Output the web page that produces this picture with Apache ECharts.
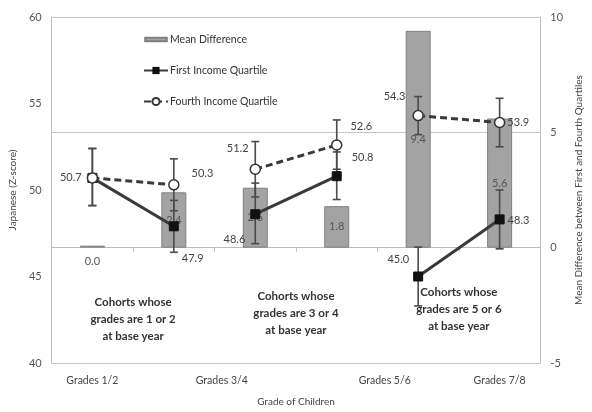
<!DOCTYPE html>
<html><head><meta charset="utf-8">
<script src="https://cdn.jsdelivr.net/npm/echarts@6/dist/echarts.min.js"></script>
<style>html,body{margin:0;padding:0;background:#fff}#c{width:592px;height:412px}</style>
</head><body><div id="c"></div>
<script>
// ---- data ----
const categories = ['Grades 1/2','Grades 3/4','Grades 3/4','Grades 5/6','Grades 5/6','Grades 7/8'];
const tickLabels = ['Grades 1/2','Grades 3/4','','Grades 5/6','','Grades 7/8'];
const meanDiff   = [0.0, 2.4, 2.6, 1.8, 9.4, 5.6];
const firstQ     = [50.7, 47.9, 48.6, 50.8, 45.0, 48.3];
const firstLow   = [49.1, 46.4, 46.9, 49.45, 43.3, 46.6];
const firstHigh  = [52.4, 49.4, 50.4, 52.2, 46.7, 50.0];
const fourthQ    = [50.7, 50.3, 51.2, 52.6, 54.3, 53.9];
const fourthLow  = [49.1, 48.8, 49.6, 51.2, 53.2, 52.5];
const fourthHigh = [52.4, 51.8, 52.8, 54.05, 55.4, 55.3];
const cohortPairs = [[0,1],[2,3],[4,5]];
const cohortNotes = ['Cohorts whose\ngrades are 1 or 2\nat base year','Cohorts whose\ngrades are 3 or 4\nat base year','Cohorts whose\ngrades are 5 or 6\nat base year'];
const noteY = [42.5, 42.85, 43.1];

// ---- label placement (style) ----
const FONT = 'Lato, "Liberation Sans", sans-serif';
const fourthLabelPlace = [
  {position:'left', offset:[0,0]},
  {position:'right', offset:[7,-11]},
  {position:'left', offset:[4,-21]},
  {position:'right', offset:[3,-19]},
  {position:'left', offset:[-2,-19]},
  {position:'right', offset:[-3,0]}
];
const firstLabelPlace = [
  null,
  {position:'right', offset:[-2,32]},
  {position:'left', offset:[0,25]},
  {position:'right', offset:[5,-19]},
  {position:'left', offset:[1,-17]},
  {position:'right', offset:[-2,1]}
];

function lineData(vals, place, pair){
  return categories.map((c,i)=>{
    if (pair.indexOf(i) < 0) return '-';
    const p = place[i];
    if (!p) return {value: vals[i], label:{show:false}};
    return {value: vals[i], label:{show:true, position:p.position, offset:p.offset}};
  });
}

const lblStyle = {color:'#444', fontSize:11, fontFamily:FONT, formatter:(p)=>p.value.toFixed(1)};

const series = [];
series.push({
  name:'Mean Difference', type:'bar', yAxisIndex:1, z:1, barWidth:25, barMinHeight:2,
  itemStyle:{color:'#a3a3a3', borderColor:'#808080', borderWidth:1},
  label:{show:true, position:'inside', color:'#555', fontSize:11, fontFamily:FONT, formatter:(p)=>p.value.toFixed(1)},
  data: meanDiff.map(v => v === 0 ? {value:v, label:{position:'bottom', distance:8}} : v)
});
// error bars
function errSeries(low, high){
  return {
    type:'custom', yAxisIndex:0, z:2, silent:true,
    data: categories.map((c,i)=>[i, low[i], high[i]]),
    renderItem:(params, api)=>{
      const lo = api.coord([api.value(0), api.value(1)]);
      const hi = api.coord([api.value(0), api.value(2)]);
      const w = 4;
      const st = {stroke:'#4a4a4a', lineWidth:1.6};
      return {type:'group', children:[
        {type:'line', shape:{x1:lo[0],y1:lo[1],x2:hi[0],y2:hi[1]}, style:st},
        {type:'line', shape:{x1:lo[0]-w,y1:lo[1],x2:lo[0]+w,y2:lo[1]}, style:st},
        {type:'line', shape:{x1:hi[0]-w,y1:hi[1],x2:hi[0]+w,y2:hi[1]}, style:st}
      ]};
    }
  };
}
series.push(errSeries(fourthLow, fourthHigh));
series.push(errSeries(firstLow, firstHigh));
cohortPairs.forEach(pair=>{
  series.push({
    name:'Fourth Income Quartile', type:'line', yAxisIndex:0, z:4,
    symbol:'circle', symbolSize:10, showAllSymbol:true,
    lineStyle:{color:'#3a3a3a', width:3, type:[7,4]},
    itemStyle:{color:'#fff', borderColor:'#333', borderWidth:1.5},
    label:Object.assign({distance:5}, lblStyle),
    data: lineData(fourthQ, fourthLabelPlace, pair)
  });
  series.push({
    name:'First Income Quartile', type:'line', yAxisIndex:0, z:3,
    symbol:'rect', symbolSize:9,
    lineStyle:{color:'#3a3a3a', width:3},
    itemStyle:{color:'#111', borderColor:'#111'},
    label:Object.assign({distance:5}, lblStyle),
    data: lineData(firstQ, firstLabelPlace, pair)
  });
});

const chart = echarts.init(document.getElementById('c'), null, {renderer:'canvas'});
chart.setOption({
  animation:false,
  textStyle:{fontFamily:FONT},
  grid:{left:50, right:37, top:17, bottom:48},
  legend:{
    orient:'vertical', left:138, top:29, itemWidth:24, itemHeight:9, itemGap:20,
    textStyle:{fontSize:10.5, color:'#333', fontFamily:FONT, padding:[0,0,0,-3]},
    data:[
      {name:'Mean Difference', icon:'path://M0,0L0,0M0,3L24,3L24,7L0,7ZM0,10L0,10'},
      {name:'First Income Quartile'},
      {name:'Fourth Income Quartile'}
    ]
  },
  xAxis:{
    type:'category', data:categories,
    name:'Grade of Children', nameLocation:'middle', nameGap:34,
    nameTextStyle:{fontSize:10, color:'#444', fontFamily:FONT},
    axisLine:{lineStyle:{color:'#bdbdbd'}},
    axisTick:{show:true, alignWithLabel:false, length:4, lineStyle:{color:'#bdbdbd'}},
    axisLabel:{interval:0, margin:12, fontSize:10.5, color:'#444', fontFamily:FONT,
      formatter:(v,i)=>{ const t = tickLabels[i]; if(!t) return ''; return (i===1||i===3) ? '{s|'+t+'}' : t; },
      rich:{s:{padding:[0,0,0,96], fontSize:10.5, color:'#444', fontFamily:FONT}}
    },
    splitLine:{show:false}
  },
  yAxis:[
    {type:'value', min:40, max:60, interval:5, position:'left',
     name:'Japanese (Z-score)', nameLocation:'middle', nameGap:30, nameRotate:90,
     nameTextStyle:{fontSize:10, color:'#444', fontFamily:FONT},
     axisLine:{show:true, lineStyle:{color:'#bdbdbd'}}, axisTick:{show:false},
     axisLabel:{margin:10, fontSize:11, color:'#555', fontFamily:FONT},
     splitLine:{show:false}},
    {type:'value', min:-5, max:10, interval:5, position:'right',
     name:'Mean Difference between First and Fourth Quartiles', nameLocation:'middle', nameGap:27, nameRotate:90,
     nameTextStyle:{fontSize:10, color:'#444', fontFamily:FONT},
     axisLine:{show:true, lineStyle:{color:'#bdbdbd'}}, axisTick:{show:false},
     axisLabel:{margin:10, fontSize:11, color:'#555', fontFamily:FONT},
     splitLine:{show:true, lineStyle:{color:'#c4c4c4', width:1}}}
  ],
  series: series
});

// cohort notes positioned through the axes
const notes = cohortPairs.map((pair, k)=>{
  const a = chart.convertToPixel({xAxisIndex:0, yAxisIndex:0}, [pair[0], noteY[k]]);
  const b = chart.convertToPixel({xAxisIndex:0, yAxisIndex:0}, [pair[1], noteY[k]]);
  return {type:'text', x:(a[0]+b[0])/2, y:a[1], z:10,
    style:{text:cohortNotes[k], align:'center', verticalAlign:'middle', lineHeight:17,
      font:'bold 11.5px '+FONT, fill:'#333'}};
});
chart.setOption({graphic:notes});
</script></body></html>
